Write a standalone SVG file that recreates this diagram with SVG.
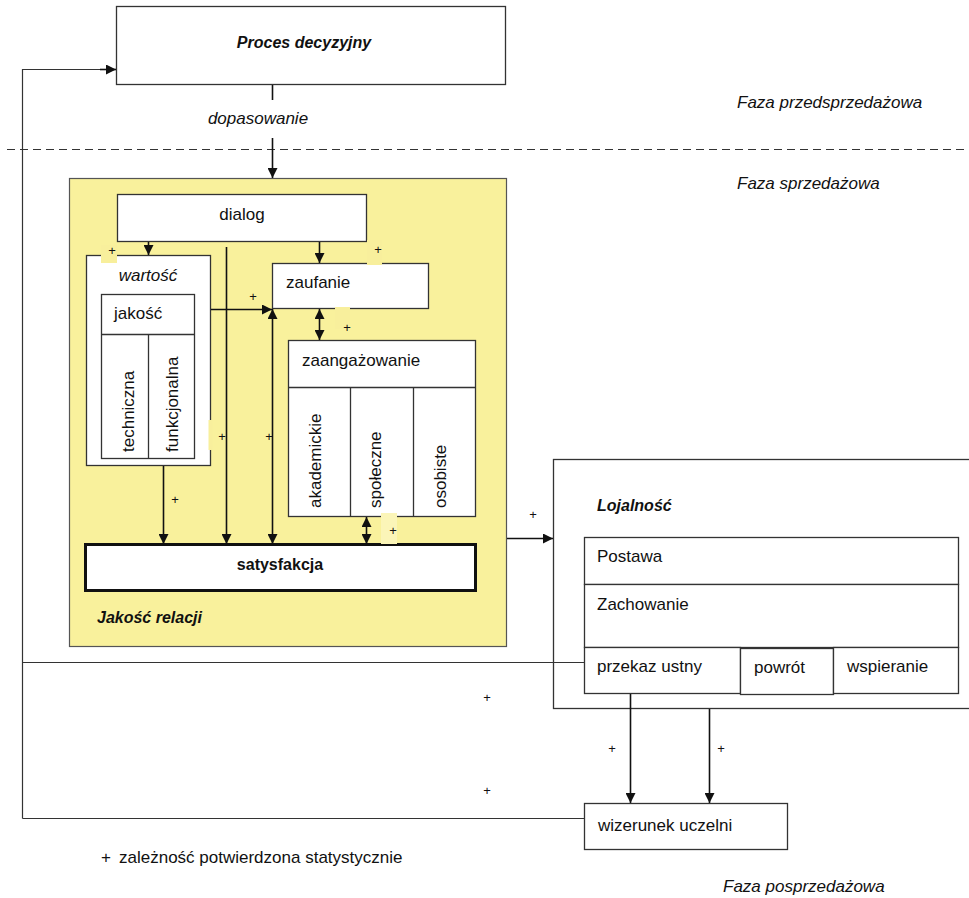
<svg xmlns="http://www.w3.org/2000/svg" width="969" height="898" viewBox="0 0 969 898">
<style>
text{font-family:"Liberation Sans",Arial,sans-serif;fill:#111}
.t{font-size:17px}
.bi{font-size:16px;font-weight:bold;font-style:italic}
.i{font-size:17px;font-style:italic}
.p{font-size:13px}
.box{fill:#fff;stroke:#333;stroke-width:1.3}
.ln{fill:none;stroke:#111;stroke-width:1.6}
.fb{fill:none;stroke:#333;stroke-width:1.2}
.patch{fill:#F8EF9C;stroke:none}
</style>
<defs>
<marker id="ahl" viewBox="0 0 10 10" refX="10" refY="5" markerWidth="10" markerHeight="10" markerUnits="userSpaceOnUse" orient="auto-start-reverse">
<path d="M0,0 L10,5 L0,10 z" fill="#111"/>
</marker>
</defs>

<rect width="969" height="898" fill="#fff"/>

<line x1="7" y1="149.5" x2="969" y2="149.5" stroke="#333" stroke-width="1.2" stroke-dasharray="8,5"/>
<text class="i" x="737" y="108">Faza przedsprzedażowa</text>
<text class="i" x="737" y="189">Faza sprzedażowa</text>
<text class="i" x="723" y="892">Faza posprzedażowa</text>

<g id="proces">
<rect class="box" x="116.5" y="6.5" width="389" height="78"/>
<text class="bi" x="304" y="48" text-anchor="middle">Proces decyzyjny</text>
</g>

<g id="jakosc-relacji">
<rect x="69.5" y="178.5" width="437" height="468" fill="#F9F19C" stroke="#555" stroke-width="1.2"/>
<text class="bi" x="97" y="623">Jakość relacji</text>
</g>

<g id="dialog">
<rect class="box" x="117.5" y="194.5" width="249" height="47"/>
<text class="t" x="242" y="220" text-anchor="middle">dialog</text>
</g>

<g id="wartosc">
<rect class="box" x="86.5" y="255.5" width="124" height="210"/>
<text class="i" x="148" y="281" text-anchor="middle">wartość</text>
<rect class="box" x="101.5" y="294.5" width="93" height="164"/>
<line class="box" x1="101.5" y1="334.5" x2="194.5" y2="334.5"/>
<line class="box" x1="148.5" y1="334.5" x2="148.5" y2="458.5"/>
<text class="t" x="114" y="319">jakość</text>
<text class="t" transform="translate(134,452) rotate(-90)">techniczna</text>
<text class="t" transform="translate(178,452) rotate(-90)">funkcjonalna</text>
</g>

<g id="zaufanie">
<rect class="box" x="272.5" y="263.5" width="156" height="45"/>
<text class="t" x="286" y="288">zaufanie</text>
</g>

<g id="zaangazowanie">
<rect class="box" x="288.5" y="340.5" width="187" height="176"/>
<line class="box" x1="288.5" y1="387.5" x2="475.5" y2="387.5"/>
<line class="box" x1="350.5" y1="387.5" x2="350.5" y2="516.5"/>
<line class="box" x1="413.5" y1="387.5" x2="413.5" y2="516.5"/>
<text class="t" x="302" y="366">zaangażowanie</text>
<text class="t" transform="translate(321,508) rotate(-90)">akademickie</text>
<text class="t" transform="translate(381,508) rotate(-90)">społeczne</text>
<text class="t" transform="translate(446,508) rotate(-90)">osobiste</text>
</g>

<g id="satysfakcja">
<rect x="85.5" y="544.5" width="390" height="46" fill="#fff" stroke="#111" stroke-width="3"/>
<text x="280" y="570" text-anchor="middle" style="font-size:16px;font-weight:bold">satysfakcja</text>
</g>

<g id="lojalnosc">
<rect class="box" x="553.5" y="459.5" width="430" height="249"/>
<text class="bi" x="597" y="511">Lojalność</text>
<rect class="box" x="584.5" y="537.5" width="374" height="47"/>
<rect class="box" x="584.5" y="584.5" width="374" height="63"/>
<text class="t" x="597" y="562">Postawa</text>
<text class="t" x="597" y="610">Zachowanie</text>
<rect class="box" x="584.5" y="647.5" width="156" height="46"/>
<rect class="box" x="740.5" y="648.5" width="93" height="46"/>
<rect class="box" x="833.5" y="647.5" width="125" height="46"/>
<text class="t" x="597" y="672">przekaz ustny</text>
<text class="t" x="754" y="673">powrót</text>
<text class="t" x="847" y="672">wspieranie</text>
</g>

<g id="wizerunek">
<rect class="box" x="584.5" y="803.5" width="203" height="46"/>
<text class="t" x="598" y="831">wizerunek uczelni</text>
</g>

<g id="connectors">
<line class="ln" x1="272.5" y1="85" x2="272.5" y2="100"/>
<text class="i" x="258" y="124" text-anchor="middle">dopasowanie</text>
<line class="ln" x1="272.5" y1="138" x2="272.5" y2="178" marker-end="url(#ahl)"/>

<line class="ln" x1="148.5" y1="242" x2="148.5" y2="255" marker-end="url(#ahl)"/>
<line class="ln" x1="319.5" y1="242" x2="319.5" y2="263" marker-end="url(#ahl)"/>
<line class="ln" x1="319.5" y1="309" x2="319.5" y2="340" marker-start="url(#ahl)" marker-end="url(#ahl)"/>
<line class="ln" x1="211" y1="309.5" x2="272" y2="309.5" marker-end="url(#ahl)"/>
<line class="ln" x1="226.5" y1="247" x2="226.5" y2="544" marker-end="url(#ahl)"/>
<line class="ln" x1="272.5" y1="309" x2="272.5" y2="544" marker-start="url(#ahl)" marker-end="url(#ahl)"/>
<line class="ln" x1="163.5" y1="466" x2="163.5" y2="544" marker-end="url(#ahl)"/>
<line class="ln" x1="366.5" y1="517" x2="366.5" y2="544" marker-start="url(#ahl)" marker-end="url(#ahl)"/>
<line class="ln" x1="507" y1="538.5" x2="553" y2="538.5" marker-end="url(#ahl)"/>

<polyline class="fb" points="22.5,818.5 22.5,69.5 106,69.5"/>
<line class="ln" x1="100" y1="69.5" x2="116" y2="69.5" marker-end="url(#ahl)"/>
<line class="fb" x1="22.5" y1="662.5" x2="584" y2="662.5"/>
<line class="fb" x1="22.5" y1="818.5" x2="584" y2="818.5"/>
<line class="ln" x1="630.5" y1="694" x2="630.5" y2="803" marker-end="url(#ahl)"/>
<line class="ln" x1="709.5" y1="709" x2="709.5" y2="803" marker-end="url(#ahl)"/>

<rect class="patch" x="101" y="245" width="16" height="18"/>
<rect class="patch" x="367" y="240" width="15" height="25"/>
<rect class="patch" x="335" y="307" width="15" height="22"/>
<rect class="patch" x="208.5" y="420" width="4" height="30"/>
<rect x="381" y="513" width="16" height="31" fill="#FBF5B8"/>

<text class="p" x="112" y="255" text-anchor="middle">+</text>
<text class="p" x="378" y="254" text-anchor="middle">+</text>
<text class="p" x="253" y="301" text-anchor="middle">+</text>
<text class="p" x="347" y="332" text-anchor="middle">+</text>
<text class="p" x="222" y="441" text-anchor="middle">+</text>
<text class="p" x="269" y="441" text-anchor="middle">+</text>
<text class="p" x="175" y="504" text-anchor="middle">+</text>
<text class="p" x="393" y="535" text-anchor="middle">+</text>
<text class="p" x="533" y="519" text-anchor="middle">+</text>
<text class="p" x="487" y="702" text-anchor="middle">+</text>
<text class="p" x="487" y="795" text-anchor="middle">+</text>
<text class="p" x="612" y="753" text-anchor="middle">+</text>
<text class="p" x="721" y="753" text-anchor="middle">+</text>
</g>

<text class="t" x="101" y="863">+</text>
<text class="t" x="119" y="863">zależność potwierdzona statystycznie</text>
</svg>
